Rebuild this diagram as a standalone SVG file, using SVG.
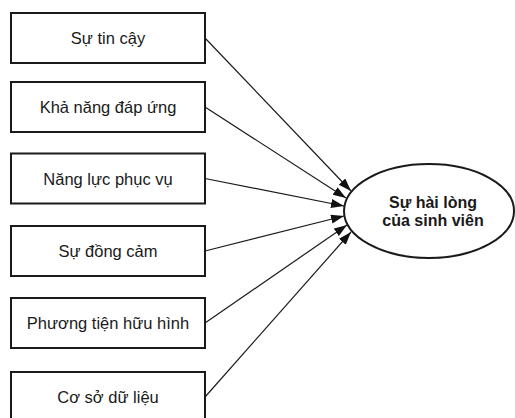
<svg xmlns="http://www.w3.org/2000/svg" width="515" height="418" viewBox="0 0 515 418">
<style>
.box{fill:#fff;stroke:#1a1a1a;stroke-width:2}
.lbl{font-family:"Liberation Sans",Arial,sans-serif;font-size:16.5px;fill:#1a1a1a;text-anchor:middle}
.conn{stroke:#1a1a1a;stroke-width:1.2;fill:none;marker-end:url(#arr)}
.tgt{fill:#fff;stroke:#1a1a1a;stroke-width:2}
.tlbl{font-family:"Liberation Sans",Arial,sans-serif;font-size:16px;font-weight:bold;fill:#1a1a1a;text-anchor:middle}
</style>
<defs>
<marker id="arr" markerUnits="userSpaceOnUse" markerWidth="14" markerHeight="10" refX="13" refY="4.5" orient="auto">
<path d="M0,0 L13,4.5 L0,9 z" fill="#111"/>
</marker>
</defs>
<rect width="515" height="418" fill="#fff"/>
<g id="connectors">
<line class="conn" x1="205" y1="38" x2="351" y2="191"/>
<line class="conn" x1="205" y1="107" x2="346" y2="198"/>
<line class="conn" x1="205" y1="178.5" x2="344" y2="206"/>
<line class="conn" x1="205" y1="251" x2="344" y2="216"/>
<line class="conn" x1="205" y1="323" x2="347" y2="225"/>
<line class="conn" x1="205" y1="397" x2="351" y2="232"/>
</g>
<g id="n1"><rect class="box" x="11" y="13" width="194" height="50"/><text class="lbl" x="108" y="44">Sự tin cậy</text></g>
<g id="n2"><rect class="box" x="11" y="82" width="194" height="50"/><text class="lbl" x="108" y="113">Khả năng đáp ứng</text></g>
<g id="n3"><rect class="box" x="11" y="153.5" width="194" height="50"/><text class="lbl" x="108" y="184.5">Năng lực phục vụ</text></g>
<g id="n4"><rect class="box" x="11" y="226" width="194" height="50"/><text class="lbl" x="108" y="257">Sự đồng cảm</text></g>
<g id="n5"><rect class="box" x="11" y="298" width="194" height="50"/><text class="lbl" x="108" y="329">Phương tiện hữu hình</text></g>
<g id="n6"><rect class="box" x="11" y="372" width="194" height="50"/><text class="lbl" x="108" y="403">Cơ sở dữ liệu</text></g>
<g id="target"><ellipse class="tgt" cx="429" cy="211" rx="85" ry="47"/><text class="tlbl" x="433" y="208">Sự hài lòng</text><text class="tlbl" x="433" y="225.5">của sinh viên</text></g>
</svg>
